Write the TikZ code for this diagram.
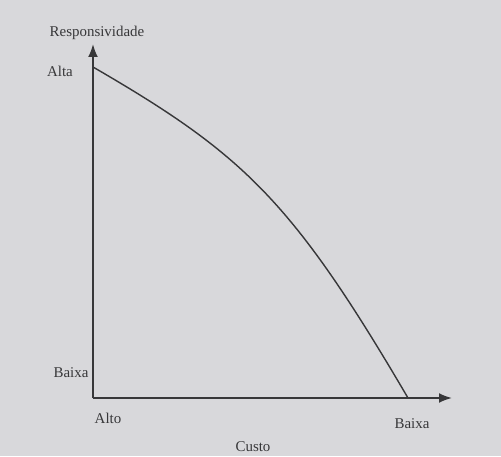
\documentclass[tikz,border=0pt]{standalone}
\usepackage{fontspec}
\setmainfont{Liberation Serif}
\usetikzlibrary{arrows.meta}
\definecolor{paper}{RGB}{216,216,219}
\definecolor{ink}{RGB}{55,55,57}
\begin{document}
\begin{tikzpicture}[
  axis/.style={draw=ink, line width=1.1pt, -{Latex[length=2.6mm,width=2mm]}},
  label/.style={text=ink, font=\fontsize{8.5}{10}\selectfont, inner sep=1pt},
  frontier/.style={draw=ink, line width=0.8pt}]

\fill[paper] (0,0) rectangle (10.02,9.12);
\useasboundingbox (0,0) rectangle (10.02,9.12);

\coordinate (origin) at (1.86,1.16);
\coordinate (ytip) at (1.86,8.24);
\coordinate (xtip) at (9.04,1.16);
\coordinate (cstart) at (1.86,7.78);
\coordinate (cend) at (8.16,1.16);

\node[label] (ytitle) at (1.94,8.46) {Responsividade};
\node[label] (yhigh) at (1.20,7.70) {Alta};
\node[label] (ylow) at (1.42,1.66) {Baixa};
\node[label] (xhigh) at (2.16,0.76) {Alto};
\node[label] (xlow) at (8.24,0.64) {Baixa};
\node[label] (xtitle) at (5.06,0.18) {Custo};

\draw[axis] (origin) -- (ytip);
\draw[axis] (origin) -- (xtip);
\draw[frontier] (cstart) .. controls (4.86,6.04) and (5.84,5.12) .. (cend);

\end{tikzpicture}
\end{document}
